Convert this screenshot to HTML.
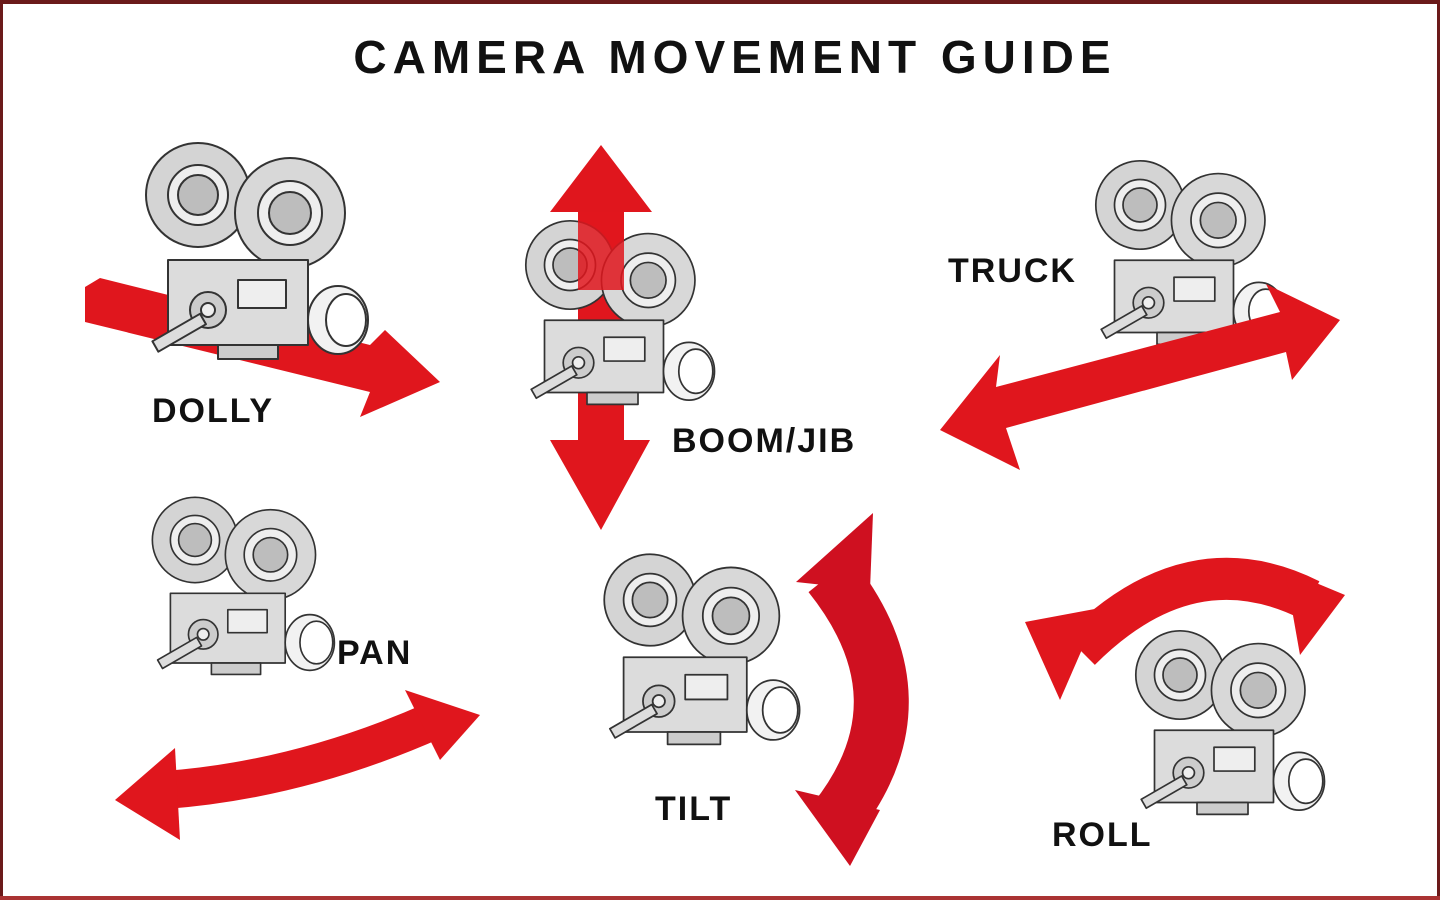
<!DOCTYPE html>
<html><head><meta charset="utf-8"><style>
html,body{margin:0;padding:0;background:#fff;}
svg{display:block;}
text{font-family:"Liberation Sans","DejaVu Sans",sans-serif;font-weight:bold;fill:#111;}
</style></head><body>
<svg width="1440" height="900" viewBox="0 0 1440 900" xmlns="http://www.w3.org/2000/svg">
<defs>
<g id="cam" stroke="#333" stroke-width="2" stroke-linejoin="round">
  <circle cx="0" cy="0" r="52" fill="#d4d4d4"/>
  <circle cx="0" cy="0" r="30" fill="#eee"/>
  <circle cx="0" cy="0" r="20" fill="#bdbdbd"/>
  <circle cx="92" cy="18" r="55" fill="#d8d8d8"/>
  <circle cx="92" cy="18" r="32" fill="#eee"/>
  <circle cx="92" cy="18" r="21" fill="#bdbdbd"/>
  <rect x="-30" y="65" width="140" height="85" fill="#dcdcdc"/>
  <rect x="40" y="85" width="48" height="28" fill="#eee"/>
  <circle cx="10" cy="115" r="18" fill="#ccc"/>
  <circle cx="10" cy="115" r="7" fill="#eee"/>
  <rect x="-50" y="118" width="55" height="12" fill="#ddd" transform="rotate(-30 5 124)"/>
  <ellipse cx="140" cy="125" rx="30" ry="34" fill="#f2f2f2"/>
  <ellipse cx="148" cy="125" rx="20" ry="26" fill="#fff"/>
  <rect x="20" y="150" width="60" height="14" fill="#ccc"/>
</g>
</defs>
<rect x="0" y="0" width="1440" height="900" fill="#fff"/>
<rect x="0" y="0" width="1440" height="4" fill="#6b1a1a"/>
<rect x="0" y="0" width="3" height="900" fill="#6b1a1a"/>
<rect x="1437" y="0" width="3" height="900" fill="#6b1a1a"/>
<rect x="0" y="896" width="1440" height="4" fill="#a33"/>

<text x="735" y="73" font-size="46" text-anchor="middle" letter-spacing="6">CAMERA MOVEMENT GUIDE</text>

<!-- DOLLY -->
<polygon points="85,287 100,278 370,345 385,330 440,382 360,417 370,392 85,322" fill="#e0161d"/>
<use href="#cam" x="198" y="195"/>
<text x="152" y="422" font-size="34" letter-spacing="2">DOLLY</text>

<!-- BOOM -->
<polygon points="601,145 652,212 624,212 624,440 650,440 601,530 550,440 578,440 578,212 550,212" fill="#e0161d"/>
<g transform="translate(570,265) scale(0.85)"><use href="#cam"/></g>
<polygon points="578,212 624,212 624,290 578,290" fill="#e0161d" opacity="0.85"/>
<text x="672" y="452" font-size="34" letter-spacing="2">BOOM/JIB</text>

<!-- TRUCK -->
<g transform="translate(1140,205) scale(0.85)"><use href="#cam"/></g>
<polygon points="940,430 1000,355 996,387 1280,312 1266,284 1340,320 1292,380 1286,352 1006,428 1020,470" fill="#e0161d"/>
<text x="948" y="282" font-size="34" letter-spacing="2">TRUCK</text>

<!-- PAN -->
<g transform="translate(195,540) scale(0.82)"><use href="#cam"/></g>
<path d="M165,790 Q300,780 435,720" fill="none" stroke="#e0161d" stroke-width="38"/>
<polygon points="115,800 175,748 180,840" fill="#e0161d"/>
<polygon points="480,715 405,690 440,760" fill="#e0161d"/>
<text x="337" y="664" font-size="34" letter-spacing="2">PAN</text>

<!-- TILT -->
<g transform="translate(650,600) scale(0.88)"><use href="#cam"/></g>
<path d="M830,575 Q930,700 835,820" fill="none" stroke="#cf1020" stroke-width="55"/>
<polygon points="873,513 796,582 870,590" fill="#cf1020"/>
<polygon points="850,866 795,790 880,810" fill="#cf1020"/>
<text x="655" y="820" font-size="34" letter-spacing="2">TILT</text>

<!-- ROLL -->
<path d="M1080,650 Q1190,540 1310,600" fill="none" stroke="#e0161d" stroke-width="42"/>
<polygon points="1025,622 1100,608 1060,700" fill="#e0161d"/>
<polygon points="1345,595 1285,570 1300,655" fill="#e0161d"/>
<g transform="translate(1180,675) scale(0.85)"><use href="#cam"/></g>
<text x="1052" y="846" font-size="34" letter-spacing="2">ROLL</text>
</svg>
</body></html>
